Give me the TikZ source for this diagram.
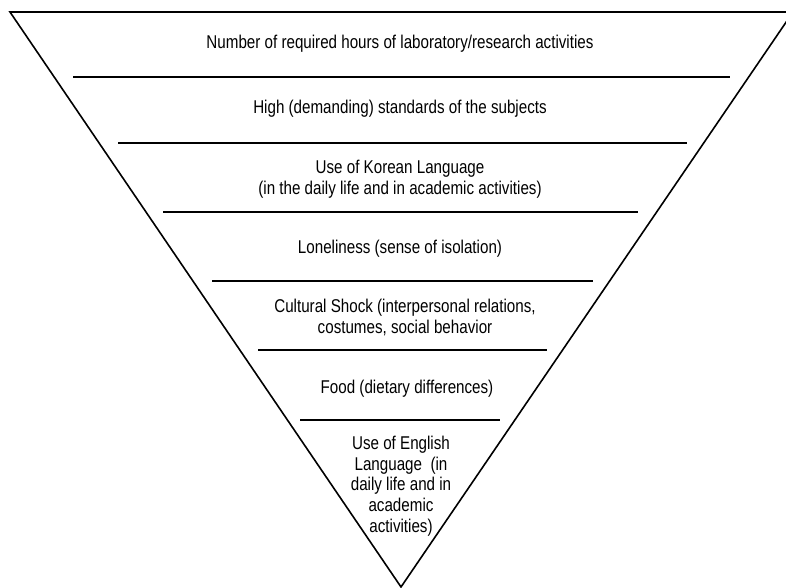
\documentclass[tikz,border=0pt]{standalone}
\usepackage{fontspec}
\setmainfont{Liberation Sans}[FakeStretch=0.82]
\tikzset{
	tier/.style={anchor=base, align=center, inner sep=0pt, font=\fontsize{18.5}{20.6}\selectfont},
	bar/.style={line width=1.6pt}
}
\begin{document}
\begin{tikzpicture}[x=1pt,y=-1pt]
	\useasboundingbox (0,0) rectangle (786,588);
	% funnel outline
	\draw[bar, line join=miter] (10,12) -- (793,12) -- (401,587) -- cycle;
	% separators
	\draw[bar] (73,77) -- (730,77);
	\draw[bar] (118,143) -- (687,143);
	\draw[bar] (163,212) -- (638,212);
	\draw[bar] (212,281) -- (593,281);
	\draw[bar] (258,350) -- (547,350);
	\draw[bar] (300,420) -- (500,420);
	% labels (base = last line)
	\node[tier] (hours) at (400,49) {Number of required hours of laboratory/research activities};
	\node[tier] (standards) at (400,114) {High (demanding) standards of the subjects};
	\node[tier] (korean) at (400,194) {Use of Korean Language\\(in the daily life and in academic activities)};
	\node[tier] (lonely) at (400,253) {Loneliness (sense of isolation)};
	\node[tier] (shock) at (405,333) {Cultural Shock (interpersonal relations,\\costumes, social behavior};
	\node[tier] (food) at (407,393) {Food (dietary differences)};
	\node[tier] (english) at (401,532) {Use of English\\Language~ (in\\daily life and in\\academic\\activities)};
\end{tikzpicture}
\end{document}
